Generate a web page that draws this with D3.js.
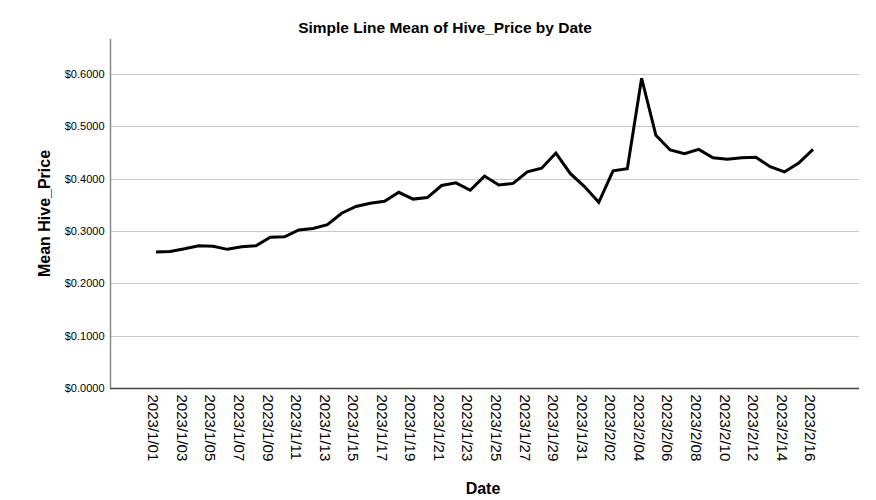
<!DOCTYPE html>
<html>
<head>
<meta charset="utf-8">
<script src="https://cdn.jsdelivr.net/npm/d3@7"></script>
<style>
  html, body { margin: 0; padding: 0; background: #fff; }
  svg { display: block; font-family: Arial, "Liberation Sans", sans-serif; }
</style>
</head>
<body>
<div id="app"></div>
<script>
const dates = [
  "2023/1/01", "2023/1/02", "2023/1/03", "2023/1/04", "2023/1/05", "2023/1/06",
  "2023/1/07", "2023/1/08", "2023/1/09", "2023/1/10", "2023/1/11", "2023/1/12",
  "2023/1/13", "2023/1/14", "2023/1/15", "2023/1/16", "2023/1/17", "2023/1/18",
  "2023/1/19", "2023/1/20", "2023/1/21", "2023/1/22", "2023/1/23", "2023/1/24",
  "2023/1/25", "2023/1/26", "2023/1/27", "2023/1/28", "2023/1/29", "2023/1/30",
  "2023/1/31", "2023/2/01", "2023/2/02", "2023/2/03", "2023/2/04", "2023/2/05",
  "2023/2/06", "2023/2/07", "2023/2/08", "2023/2/09", "2023/2/10", "2023/2/11",
  "2023/2/12", "2023/2/13", "2023/2/14", "2023/2/15", "2023/2/16"
]

const meanPrice = [
  0.260, 0.261, 0.266, 0.272, 0.271, 0.265,
  0.270, 0.272, 0.288, 0.289, 0.302, 0.305,
  0.312, 0.334, 0.347, 0.353, 0.357, 0.374,
  0.361, 0.364, 0.387, 0.392, 0.378, 0.405,
  0.388, 0.391, 0.413, 0.420, 0.449, 0.410,
  0.385, 0.355, 0.415, 0.419, 0.592, 0.483,
  0.455, 0.448, 0.456, 0.440, 0.437, 0.440,
  0.441, 0.423, 0.413, 0.430, 0.456
]

// every other day gets a label
const xTickLabels = [
  "2023/1/01", "2023/1/03", "2023/1/05", "2023/1/07", "2023/1/09", "2023/1/11",
  "2023/1/13", "2023/1/15", "2023/1/17", "2023/1/19", "2023/1/21", "2023/1/23",
  "2023/1/25", "2023/1/27", "2023/1/29", "2023/1/31", "2023/2/02", "2023/2/04",
  "2023/2/06", "2023/2/08", "2023/2/10", "2023/2/12", "2023/2/14", "2023/2/16"
]

const yTicks = [0, 0.1, 0.2, 0.3, 0.4, 0.5, 0.6]

const width = 876
const height = 500
const plot = { left: 110, right: 859, top: 39, bottom: 388 }

const dataset = dates.map((d, i) => ({ date: d, value: meanPrice[i] }))

const svg = d3.select('#app')
  .append('svg')
  .attr('width', width)
  .attr('height', height)

const xScale = d3.scalePoint()
  .domain(dates)
  .range([plot.left, plot.right])
  .padding(3.22)

const yScale = d3.scaleLinear()
  .domain([0, 0.667])
  .range([plot.bottom, plot.top])

// gridlines
svg.append('g')
  .selectAll('line')
  .data(yTicks.filter(t => t > 0))
  .join('line')
  .attr('x1', plot.left)
  .attr('x2', plot.right)
  .attr('y1', d => Math.round(yScale(d)) + 0.5)
  .attr('y2', d => Math.round(yScale(d)) + 0.5)
  .attr('stroke', '#c8c8c8')
  .attr('stroke-width', 1.2)

// y axis
const axisY = d3.axisLeft(yScale)
  .tickValues(yTicks)
  .tickSize(0)
  .tickPadding(6)
  .tickFormat(d => '$' + d3.format('.4f')(d))

const gy = svg.append('g')
  .attr('transform', `translate(${plot.left + 0.5},0)`)
  .call(axisY)
gy.select('.domain').attr('stroke', '#8a8a8a').attr('stroke-width', 1.5)
  .attr('d', `M0,${plot.top}V${plot.bottom}`)
gy.selectAll('text')
  .attr('font-size', 11)
  .attr('fill', '#000')
  .attr('font-family', 'Arial, "Liberation Sans", sans-serif')

// x axis
const axisX = d3.axisBottom(xScale)
  .tickValues(xTickLabels)
  .tickSize(0)

const gx = svg.append('g')
  .attr('transform', `translate(0,${plot.bottom + 0.5})`)
  .call(axisX)
gx.select('.domain').attr('stroke', '#444').attr('stroke-width', 1.3)
  .attr('d', `M${plot.left},0H${plot.right}`)
gx.selectAll('text')
  .attr('font-size', 15)
  .attr('fill', '#000')
  .attr('font-family', 'Arial, "Liberation Sans", sans-serif')
  .attr('transform', 'rotate(90)')
  .attr('text-anchor', 'start')
  .attr('x', 6)
  .attr('y', 0)
  .attr('dy', '0.55em')

// line
const line = d3.line()
  .x(d => xScale(d.date))
  .y(d => yScale(d.value))

svg.append('path')
  .datum(dataset)
  .attr('fill', 'none')
  .attr('stroke', '#000')
  .attr('stroke-width', 3)
  .attr('stroke-linejoin', 'miter')
  .attr('d', line)

// titles
svg.append('text')
  .attr('x', 445)
  .attr('y', 33)
  .attr('text-anchor', 'middle')
  .attr('font-size', 15.5)
  .attr('font-weight', 'bold')
  .text('Simple Line Mean of Hive_Price by Date')

svg.append('text')
  .attr('transform', `translate(50,${(plot.top + plot.bottom) / 2}) rotate(-90)`)
  .attr('text-anchor', 'middle')
  .attr('font-size', 16)
  .attr('font-weight', 'bold')
  .text('Mean Hive_Price')

svg.append('text')
  .attr('x', 483)
  .attr('y', 494)
  .attr('text-anchor', 'middle')
  .attr('font-size', 16)
  .attr('font-weight', 'bold')
  .text('Date')
</script>
</body>
</html>
